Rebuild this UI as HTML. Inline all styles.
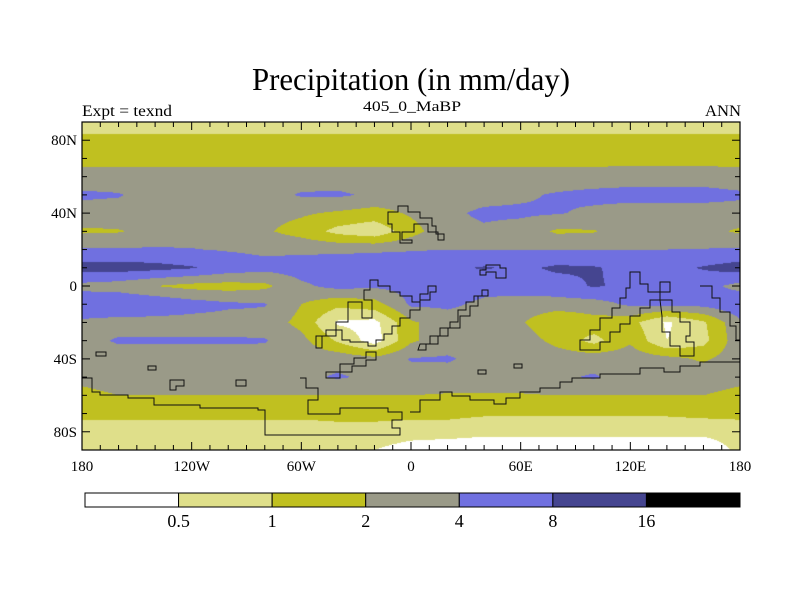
<!DOCTYPE html>
<html><head><meta charset="utf-8"><style>
html,body{margin:0;padding:0;background:#fff;width:800px;height:600px;overflow:hidden}
#wrap{position:relative;width:800px;height:600px}
canvas,svg{position:absolute;left:0;top:0}
</style></head><body>
<div id="wrap">
<canvas id="field" width="800" height="600"></canvas>
<svg id="ov" width="800" height="600" xmlns="http://www.w3.org/2000/svg" font-family="'Liberation Serif', serif">
<text x="411" y="90" font-size="32" text-anchor="middle" textLength="318" lengthAdjust="spacingAndGlyphs">Precipitation (in mm/day)</text>
<text x="82" y="116" font-size="16" textLength="90" lengthAdjust="spacingAndGlyphs">Expt = texnd</text>
<text x="412" y="111" font-size="15" text-anchor="middle" textLength="98" lengthAdjust="spacingAndGlyphs">405_0_MaBP</text>
<text x="741" y="116" font-size="16" text-anchor="end" textLength="36" lengthAdjust="spacingAndGlyphs">ANN</text>
<g id="coast" fill="none" stroke="#111" stroke-width="1">
<path d="M388,212 H398 V206 H408 V212 H420 V218 H432 V226 H436 V234 H444 V240 H438 V232 H428 V224 H414 V232 H402 V240 H412 V243 H400 V232 H392 V224 H388 Z"/>
<path d="M480,270 H486 V265 H500 V268 H506 V278 H496 V272 H486 V275 H480 Z"/>
<path d="M370,280 H378 V286 H390 V292 H400 V296 H412 V302 H420 V294 H428 V286 H436 V292 H430 V300 H420 V310 H410 V318 H400 V326 H392 V334 H384 V340 H376 V346 H368 V342 H350 V340 H342 V330 H336 V336 H322 V348 H316 V336 H326 V330 H336 V322 H348 V302 H362 V318 H372 V300 H364 V290 H370 Z"/>
<path d="M420,344 H430 V336 H440 V328 H450 V322 H458 V310 H466 V302 H474 V296 H482 V290 H488 V296 H478 V306 H470 V316 H460 V328 H448 V336 H438 V344 H426 V350 H418 Z"/>
<path d="M326,372 H340 V364 H354 V358 H366 V352 H376 V360 H366 V366 H352 V372 H340 V378 H326 Z"/>
<path d="M630,272 H640 V284 H648 V292 H660 V282 H670 V292 H660 V300 H650 V308 H640 V316 H630 V324 H620 V332 H610 V342 H600 V350 H580 V340 H590 V330 H600 V318 H612 V308 H620 V298 H626 V288 H630 Z"/>
<path d="M660,300 H672 V312 H680 V322 H690 V336 H686 V342 H694 V356 H680 V346 H670 V332 H662 V316 Z"/>
<path d="M700,286 H712 V298 H720 V312 H730 V326 H736 V340 H740"/>
<path d="M96,352 H106 V356 H96 Z M148,366 H156 V370 H148 Z M170,380 H184 V386 H176 V390 H170 Z M236,380 H246 V386 H236 Z M478,370 H486 V374 H478 Z M514,364 H522 V368 H514 Z"/>
<path d="M82,378 H92 V392 H100 V395 H128 V398 H154 V405 H200 V408 H258 V410 H265 V435 H400 V428 H392 V420 H402 V412 H388 V408 H340 V414 H308 V400 H318 V388 H306 V378 H300"/>
<path d="M410,412 H420 V400 H440 V392 H452 V396 H470 V400 H494 V404 H506 V398 H520 V392 H540 V388 H560 V382 H572 V378 H600 V374 H640 V368 H664 V372 H680 V366 H700 V362 H740"/>
</g>
<g id="axes"></g>
<g id="cbar"></g>
</svg>
</div>
<script>
// Contour levels (mm/day) and fill colours
const levels = [0.5, 1, 2, 4, 8, 16];
const levelLabels = ["0.5", "1", "2", "4", "8", "16"];
const fillColors = ["#ffffff", "#dfdf8a", "#c0c020", "#9a9a88", "#7070e0", "#454590", "#000000"];
// Grid nodes
const lons = [-180,-160,-140,-120,-100,-80,-60,-40,-20,0,20,40,60,80,100,120,140,160,180];
const lats = [90,80,70,60,50,40,30,20,10,0,-10,-20,-30,-40,-50,-60,-70,-80,-90];
// Precipitation (mm/day), one row per latitude
const p90  = [0.7,0.7,0.7,0.7,0.7,0.7,0.7,0.7,0.7,0.7,0.7,0.7,0.7,0.7,0.7,0.7,0.7,0.7,0.7];
const p80  = [1.2,1.2,1.2,1.2,1.2,1.2,1.2,1.2,1.2,1.2,1.2,1.2,1.2,1.2,1.2,1.2,1.2,1.2,1.2];
const p70  = [1.5,1.5,1.5,1.5,1.5,1.5,1.5,1.5,1.5,1.5,1.5,1.5,1.5,1.5,1.5,1.5,1.5,1.5,1.5];
const p60  = [2.7,2.7,2.7,2.7,2.7,2.7,2.7,2.7,2.7,2.7,2.7,2.7,2.7,2.7,2.8,3.0,3.0,3.0,2.7];
const p50  = [4.5,4.2,3.0,3.0,3.0,3.0,4.3,4.5,3.5,3.0,3.0,3.2,3.6,4.3,4.8,5.0,5.0,5.0,4.5];
const p40  = [3.0,3.0,3.0,3.0,3.0,2.5,2.2,1.8,1.5,2.2,3.5,4.5,4.5,4.2,3.5,3.0,3.0,3.0,3.0];
const p30  = [1.8,1.9,2.5,3.0,3.0,2.2,1.5,0.8,0.6,1.5,3.3,3.6,3.0,1.8,1.9,3.0,3.0,2.5,1.8];
const p20  = [4.3,4.3,4.3,4.1,3.8,3.5,3.5,3.5,3.6,3.8,4.0,4.0,4.0,4.0,4.0,4.0,4.0,4.1,4.3];
const p10  = [11,11,10,8.5,6.0,5.0,5.5,6.0,6.5,6.5,7.0,8.5,7.0,9.0,8.5,6.5,6.5,8.5,11];
const p0   = [3.2,2.8,2.0,1.6,1.5,1.7,3.5,5.0,4.5,5.0,6.0,5.0,5.5,6.0,8.5,7.0,6.0,5.0,3.2];
const pS10 = [7.0,8.0,7.0,5.5,4.5,4.2,2.0,1.2,1.5,4.5,4.5,3.5,3.0,3.0,3.0,4.5,5.0,5.0,7.0];
const pS20 = [3.5,3.0,3.0,3.0,3.0,3.0,1.6,0.45,0.4,1.8,3.0,3.0,2.2,1.0,1.5,1.3,0.45,0.9,3.5];
const pS30 = [3.2,4.3,4.3,4.3,4.3,4.2,2.5,0.9,0.35,1.8,3.0,3.0,3.0,1.6,0.8,1.8,0.5,0.8,3.2];
const pS40 = [3.0,3.0,3.0,3.0,3.0,3.0,3.0,3.2,2.5,4.2,4.3,3.2,3.0,3.0,3.0,3.0,2.5,1.8,3.0];
const pS50 = [2.5,3.0,3.0,3.0,3.0,3.0,3.5,4.3,3.5,3.0,3.0,3.0,3.0,3.6,4.3,3.0,3.0,3.0,2.5];
const pS60 = [1.6,2.0,2.0,2.0,2.0,2.0,2.0,2.0,2.0,2.0,1.9,1.9,1.9,2.0,2.0,2.0,2.0,2.0,1.6];
const pS70 = [1.2,1.2,1.2,1.2,1.2,1.2,1.2,1.2,1.2,1.2,1.2,1.1,1.1,1.1,1.1,1.1,1.1,1.2,1.2];
const pS80 = [0.7,0.7,0.7,0.7,0.7,0.7,0.7,0.8,0.8,0.7,0.7,0.6,0.6,0.6,0.6,0.6,0.6,0.6,0.7];
const pS90 = [0.6,0.6,0.6,0.6,0.6,0.6,0.6,0.6,0.5,0.35,0.3,0.3,0.3,0.3,0.3,0.3,0.3,0.3,0.6];
const rows = [p90,p80,p70,p60,p50,p40,p30,p20,p10,p0,pS10,pS20,pS30,pS40,pS50,pS60,pS70,pS80,pS90];
// Axis tick labels
const lonTicks = [-180,-120,-60,0,60,120,180];
const lonTickLabels = ["180","120W","60W","0","60E","120E","180"];
const latTicks = [80,40,0,-40,-80];
const latTickLabels = ["80N","40N","0","40S","80S"];

const X0=82, X1=740, Y0=122, Y1=450;
function xOf(lon){return X0+(lon+180)/360*(X1-X0);}
function yOf(lat){return Y0+(90-lat)/180*(Y1-Y0);}
function levelIndex(v){let k=0;while(k<levels.length&&v>=levels[k])k++;return k;}
function hex(c){return [parseInt(c.substr(1,2),16),parseInt(c.substr(3,2),16),parseInt(c.substr(5,2),16)];}

// Field
const ctx=document.getElementById('field').getContext('2d');
const W=X1-X0,H=Y1-Y0;
const img=ctx.createImageData(W,H);
const logs=rows.map(r=>r.map(v=>Math.log2(v)));
const rgb=fillColors.map(hex);
const dLon=lons[1]-lons[0], dLat=lats[0]-lats[1];
for(let j=0;j<H;j++){
  const lat=90-(j+0.5)/H*180;
  let fi=(lats[0]-lat)/dLat; let i0=Math.min(Math.floor(fi),lats.length-2); let ty=fi-i0;
  for(let i=0;i<W;i++){
    const lon=-180+(i+0.5)/W*360;
    let fj=(lon-lons[0])/dLon; let j0=Math.min(Math.floor(fj),lons.length-2); let tx=fj-j0;
    const v=(1-ty)*((1-tx)*logs[i0][j0]+tx*logs[i0][j0+1])+ty*((1-tx)*logs[i0+1][j0]+tx*logs[i0+1][j0+1]);
    const c=rgb[levelIndex(Math.pow(2,v))];
    const o=(j*W+i)*4; img.data[o]=c[0];img.data[o+1]=c[1];img.data[o+2]=c[2];img.data[o+3]=255;
  }
}
ctx.putImageData(img,X0,Y0);

const NS='http://www.w3.org/2000/svg';
function mk(tag,attrs,parent){const e=document.createElementNS(NS,tag);for(const k in attrs)e.setAttribute(k,attrs[k]);parent.appendChild(e);return e;}
const ax=document.getElementById('axes');
const frame=mk('rect',{x:X0,y:Y0,width:W,height:H,fill:'none',stroke:'#000','stroke-width':1.2},ax);


for(let lon=-180;lon<=180;lon+=10){
  const x=xOf(lon); const len=(lon%60===0)?8:5;
  const t1=mk('line',{x1:x,y1:Y0,x2:x,y2:Y0+len,stroke:'#000'},ax);
  
  
  const t2=mk('line',{x1:x,y1:Y1,x2:x,y2:Y1-len,stroke:'#000'},ax);
  
  
}
for(let lat=-80;lat<=80;lat+=10){
  const y=yOf(lat); const len=(lat%40===0)?8:5;
  const t1=mk('line',{x1:X0,y1:y,x2:X0+len,y2:y,stroke:'#000'},ax);
  
  
  const t2=mk('line',{x1:X1,y1:y,x2:X1-len,y2:y,stroke:'#000'},ax);
  
  
}
lonTicks.forEach((lon,k)=>{
  const t=mk('text',{x:xOf(lon),y:471,'font-size':15,'text-anchor':'middle'},ax);
  t.textContent=lonTickLabels[k];
  
  
});
latTicks.forEach((lat,k)=>{
  const t=mk('text',{x:X0-5,y:yOf(lat)+5,'font-size':15,'text-anchor':'end'},ax);
  t.textContent=latTickLabels[k];
  
  
});
// Colorbar
const cb=document.getElementById('cbar');
const CB0=85, CB1=740, CBY=493, CBH=14, seg=(CB1-CB0)/fillColors.length;
fillColors.forEach((c,k)=>{
  const r=mk('rect',{x:CB0+k*seg,y:CBY,width:seg,height:CBH,fill:c,stroke:'#000','stroke-width':1},cb);
  
  
});
levelLabels.forEach((l,k)=>{
  const t=mk('text',{x:CB0+(k+1)*seg,y:527,'font-size':18,'text-anchor':'middle'},cb);
  t.textContent=l;
  
  
});
</script>
</body></html>
